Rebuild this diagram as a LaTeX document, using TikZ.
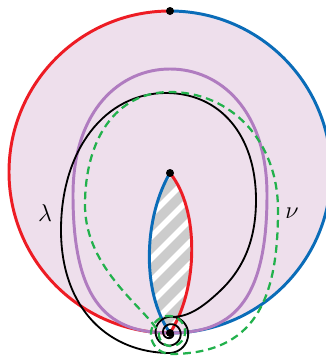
\documentclass[tikz,border=0pt]{standalone}
\usepackage{tikz}
\usetikzlibrary{calc}
\definecolor{LeftRed}{HTML}{ED1C24}
\definecolor{RightBlue}{HTML}{0A6CB8}
\definecolor{Mauve}{HTML}{B07CC0}
\definecolor{MauveFill}{HTML}{EEDFEC}
\definecolor{Lime}{HTML}{22B14C}
\definecolor{Hatch}{HTML}{CCCCCC}

\begin{document}
\begin{tikzpicture}[
	x=0.25mm, y=-0.25mm,
	rim/.style={line width=2.1pt},
	lam/.style={line width=1.3pt, black},
	dot/.style={fill=black},
	]
	\useasboundingbox (0,0) rectangle (326,356);
	
	\coordinate (top) at (170,11);
	\coordinate (mid) at (170,173);
	\coordinate (base) at (170,333);
	\coordinate (join) at (172.9,316.8);
	
	% disc and its two halves
	\fill[MauveFill] (170,172) circle[radius=161];
	\draw[rim, LeftRed] (top) arc[start angle=-90, end angle=-270, radius=161];
	\draw[rim, RightBlue] (top) arc[start angle=-90, end angle=90, radius=161];
	
	% purple loop
	\draw[rim, Mauve] (base) .. controls (110,333) and (73,305) .. (73,195)
		.. controls (73,110) and (120,69) .. (170,69)
		.. controls (220,69) and (267,110) .. (267,195)
		.. controls (267,305) and (230,333) .. (base);
	
	% hatched lens
	\begin{scope}
		\clip (mid) .. controls (145,215) and (140,290) .. (base)
			.. controls (198,290) and (200,210) .. (mid);
		\fill[Hatch] (130,160) rectangle (210,340);
		\foreach \c in {300,322,...,560}
			\draw[white, line width=1.4mm] (\c-400,400) -- (\c-100,100);
	\end{scope}
	\draw[rim, RightBlue] (mid) .. controls (145,215) and (140,290) .. (base);
	\draw[rim, LeftRed] (mid) .. controls (200,210) and (198,290) .. (base);
	
	% lambda
	\draw[lam] (join) .. controls (190,317) and (205,305) .. (220,291)
		.. controls (240,272) and (256,245) .. (256,200)
		.. controls (256,135) and (220,93) .. (166,93)
		.. controls (105,93) and (61,150) .. (61,230)
		.. controls (61,310) and (110,353) .. (170,353)
		-- plot[domain=90:-700, samples=140, smooth]
		({170+(20-7.5*(90-\x)/360)*cos(\x)}, {333+(20-7.5*(90-\x)/360)*sin(\x)});
	
	% nu
	\draw[rim, Lime, line width=1.6pt, dash pattern=on 5.5pt off 3.5pt]
		plot[domain=-180:-630, samples=120, smooth]
		({170+(11+10*(-180-\x)/450)*cos(\x)}, {333+(11+10*(-180-\x)/450)*sin(\x)})
		.. controls (255,354) and (278,300) .. (278,210)
		.. controls (278,140) and (230,92) .. (170,92)
		.. controls (115,92) and (85,140) .. (85,205)
		.. controls (85,270) and (148,310) .. (159,333);
	
	\fill[dot] (top) circle[radius=4];
	\fill[dot] (mid) circle[radius=4];
	\fill[dot] (base) circle[radius=4];
	
	\node (lamlabel) at (45,213) {\LARGE$\lambda$};
	\node (nulabel) at (292,213) {\LARGE$\nu$};
\end{tikzpicture}
\end{document}
